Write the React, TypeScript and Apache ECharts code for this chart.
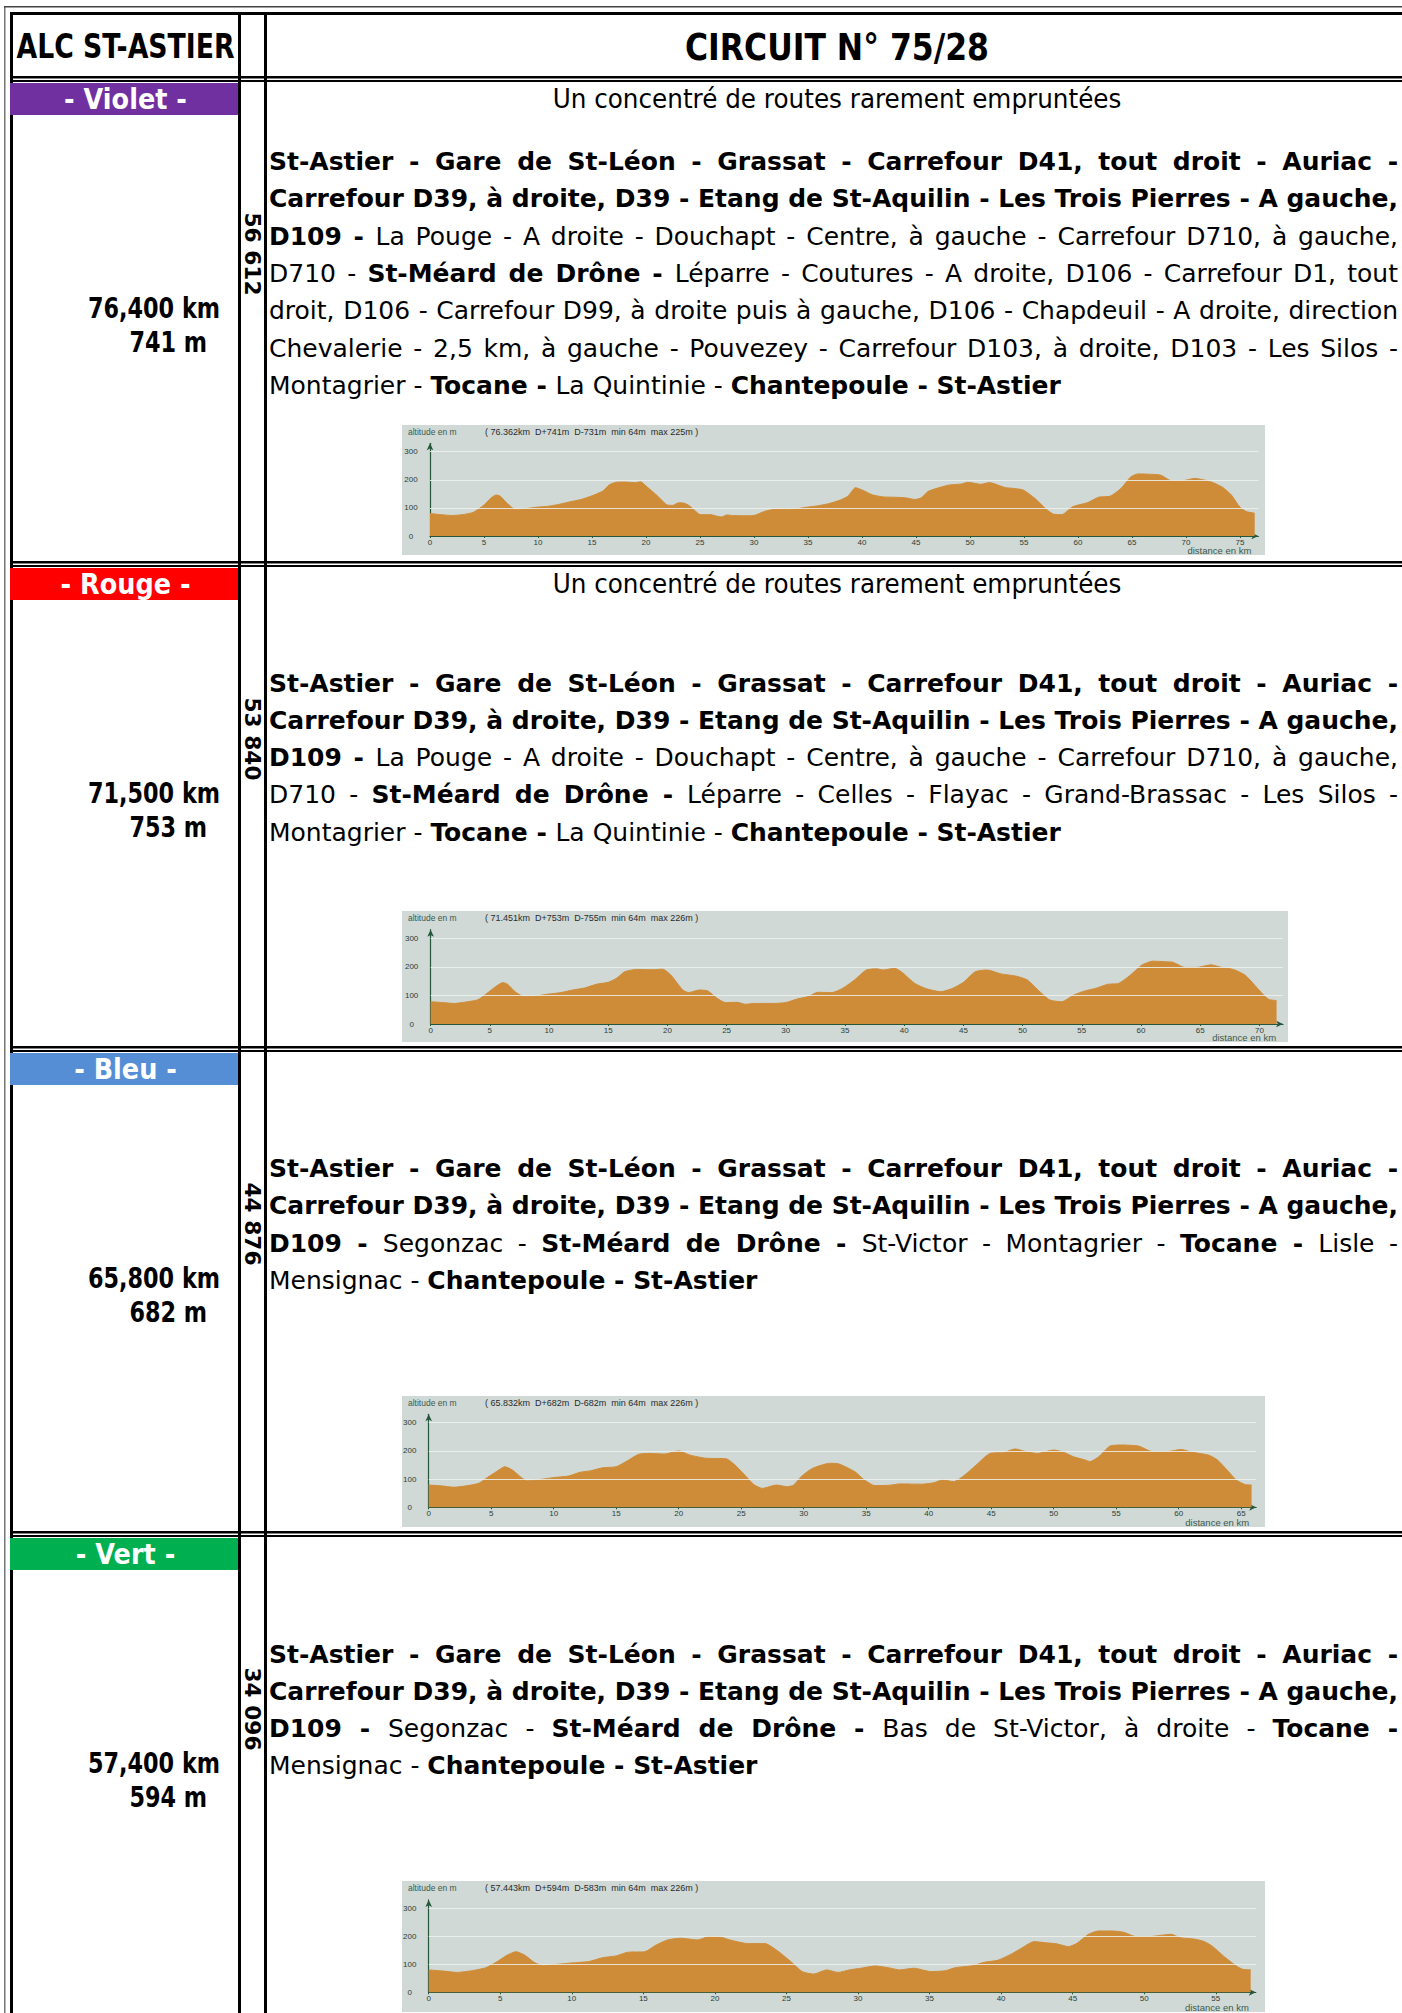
import React, { useEffect, useRef } from "react";
import * as echarts from "echarts";

// ---------- DATA ----------
const headerLeft = "ALC ST-ASTIER";
const headerTitle = "CIRCUIT N° 75/28";

const sectionNames = ["- Violet -", "- Rouge -", "- Bleu -", "- Vert -"];
const sectionColors = ["#7030a0", "#ff0000", "#558ed5", "#00b050"];
const distances = ["76,400 km", "71,500 km", "65,800 km", "57,400 km"];
const climbs = ["741 m", "753 m", "682 m", "594 m"];
const codes = ["56 612", "53 840", "44 876", "34 096"];
const subtitles = [
  "Un concentré de routes rarement empruntées",
  "Un concentré de routes rarement empruntées",
  "",
  "",
];

const violetRoute = [
  "**St-Astier - Gare de St-Léon - Grassat - Carrefour D41, tout droit - Auriac -**",
  "**Carrefour D39, à droite, D39 - Etang de St-Aquilin - Les Trois Pierres - A gauche,**",
  "**D109 -** La Pouge - A droite - Douchapt - Centre, à gauche - Carrefour D710, à gauche,",
  "D710 - **St-Méard de Drône -** Léparre - Coutures - A droite, D106 - Carrefour D1, tout",
  "droit, D106 - Carrefour D99, à droite puis à gauche, D106 - Chapdeuil - A droite, direction",
  "Chevalerie - 2,5 km, à gauche - Pouvezey - Carrefour D103, à droite, D103 - Les Silos -",
  "Montagrier - **Tocane -** La Quintinie - **Chantepoule - St-Astier**",
];
const rougeRoute = [
  "**St-Astier - Gare de St-Léon - Grassat - Carrefour D41, tout droit - Auriac -**",
  "**Carrefour D39, à droite, D39 - Etang de St-Aquilin - Les Trois Pierres - A gauche,**",
  "**D109 -** La Pouge - A droite - Douchapt - Centre, à gauche - Carrefour D710, à gauche,",
  "D710 - **St-Méard de Drône -** Léparre - Celles - Flayac - Grand-Brassac - Les Silos -",
  "Montagrier - **Tocane -** La Quintinie - **Chantepoule - St-Astier**",
];
const bleuRoute = [
  "**St-Astier - Gare de St-Léon - Grassat - Carrefour D41, tout droit - Auriac -**",
  "**Carrefour D39, à droite, D39 - Etang de St-Aquilin - Les Trois Pierres - A gauche,**",
  "**D109 -** Segonzac - **St-Méard de Drône -** St-Victor - Montagrier - **Tocane -** Lisle -",
  "Mensignac - **Chantepoule - St-Astier**",
];
const vertRoute = [
  "**St-Astier - Gare de St-Léon - Grassat - Carrefour D41, tout droit - Auriac -**",
  "**Carrefour D39, à droite, D39 - Etang de St-Aquilin - Les Trois Pierres - A gauche,**",
  "**D109 -** Segonzac - **St-Méard de Drône -** Bas de St-Victor, à droite - **Tocane -**",
  "Mensignac - **Chantepoule - St-Astier**",
];

const profileSummaries = [
  "( 76.362km  D+741m  D-731m  min 64m  max 225m )",
  "( 71.451km  D+753m  D-755m  min 64m  max 226m )",
  "( 65.832km  D+682m  D-682m  min 64m  max 226m )",
  "( 57.443km  D+594m  D-583m  min 64m  max 226m )",
];

const violetProfile = [
  [0, 80], [1, 76], [2, 73], [3, 76], [4, 84], [5, 110], [5.5, 130], [6.1, 146], [6.5, 142], [7, 122],
  [7.9, 95], [9, 98], [10, 103], [11, 106], [12, 113], [13, 122], [14, 130], [15, 143], [16, 160],
  [16.6, 182], [17.2, 191], [18, 192], [19, 190], [19.5, 193], [20, 178], [21, 145], [22, 110],
  [22.5, 109], [23, 118], [23.5, 117], [24, 108], [24.6, 88], [25, 76], [26, 76], [26.5, 71], [27, 68],
  [27.5, 75], [28, 73], [29, 72], [30, 73], [31, 88], [32, 95], [33, 95], [34, 97], [35, 103], [36, 108],
  [37, 116], [38, 128], [38.7, 142], [39.4, 172], [40, 164], [41, 146], [42, 139], [43, 138], [44, 136],
  [44.9, 130], [45.5, 136], [46.1, 158], [46.7, 167], [48, 181], [49.2, 185], [49.8, 191], [51, 184],
  [51.8, 190], [53.2, 173], [54.9, 164], [56, 134], [56.9, 101], [57.7, 78], [58.5, 76], [59.5, 104],
  [60.9, 119], [61.9, 138], [63, 142], [64, 170], [64.9, 211], [65.6, 221], [67.1, 219], [67.7, 216],
  [68.6, 197], [69.6, 196], [70.8, 205], [72.3, 193], [73.4, 173], [74.2, 146], [75, 102], [75.6, 87],
  [76.36, 81],
];
const rougeProfile = [
  [0, 78], [1, 75], [2, 72], [3, 77], [4, 85], [4.75, 107], [5.5, 131], [6.1, 145], [6.5, 139],
  [7.2, 111], [7.9, 96], [8.9, 98], [9.85, 104], [11, 110], [12, 119], [13, 126], [14, 139], [15, 146],
  [15.7, 160], [16.4, 183], [17.4, 191], [18.8, 190], [19.6, 192], [20.3, 171], [21.3, 119], [21.8, 110],
  [22.7, 119], [23.4, 116], [24.2, 90], [24.9, 75], [25.9, 76], [26.6, 69], [27.3, 72], [29, 72],
  [30, 75], [31, 88], [31.9, 96], [32.7, 111], [33.9, 110], [34.8, 125], [35.8, 154], [36.8, 189],
  [37.7, 193], [38.2, 189], [39.2, 195], [39.9, 178], [40.9, 142], [41.9, 123], [43.1, 113], [44.1, 125],
  [45, 146], [46, 183], [47, 189], [48.2, 175], [49.4, 168], [50.4, 154], [51.3, 119], [52.3, 84],
  [53.3, 78], [54.3, 101], [55.2, 115], [56.2, 125], [57.2, 139], [58.1, 142], [59.1, 171], [60.1, 207],
  [61, 220], [62, 218], [62.7, 216], [63.7, 198], [64.7, 198], [65.9, 207], [66.9, 197], [67.8, 191],
  [68.8, 171], [69.6, 136], [70.3, 104], [70.8, 86], [71.45, 82],
];
const bleuProfile = [
  [0, 79], [1, 76], [2, 71], [3, 76], [4, 85], [4.7, 106], [5.4, 126], [6.1, 144], [6.7, 132], [7.4, 106],
  [7.9, 94], [9, 99], [10.1, 106], [11.2, 111], [12.1, 124], [13, 130], [13.9, 140], [15, 144],
  [15.9, 165], [16.8, 188], [17.7, 191], [18.9, 189], [20, 200], [20.9, 185], [22.2, 174], [23.8, 172],
  [24.5, 150], [25.4, 109], [26, 81], [26.7, 67], [27.8, 79], [28.7, 73], [29.2, 79], [29.8, 109],
  [30.7, 138], [32.1, 156], [32.8, 154], [34.1, 126], [34.8, 99], [35.7, 77], [36.8, 78], [37.7, 83],
  [39.5, 82], [40.4, 87], [41.1, 97], [42, 91], [42.9, 115], [43.8, 150], [44.9, 191], [46, 194],
  [46.9, 207], [47.8, 197], [48.7, 191], [50, 203], [50.7, 197], [51.6, 179], [52.5, 168], [52.9, 162],
  [53.6, 179], [54.5, 217], [55.4, 221], [56.8, 217], [57.9, 197], [59, 197], [60.2, 205], [61.1, 195],
  [62.4, 185], [63.1, 168], [64, 126], [64.6, 97], [65.3, 81], [65.83, 79],
];
const vertProfile = [
  [0, 80], [1, 76], [2, 71], [3, 77], [4, 88], [4.7, 107], [5.5, 133], [6.1, 145], [6.7, 133], [7.4, 106],
  [8, 95], [9, 100], [10, 105], [11.2, 110], [12.2, 124], [13.1, 130], [13.9, 143], [15.1, 145],
  [15.9, 169], [16.7, 187], [17.6, 193], [18.8, 187], [19.6, 199], [20.4, 197], [21.2, 185], [22.3, 174],
  [23.5, 174], [24.3, 151], [25.3, 110], [26.1, 74], [26.9, 65], [27.8, 80], [28.6, 71], [29.4, 80],
  [30.2, 86], [31.2, 94], [32.1, 88], [32.9, 80], [33.9, 86], [35.1, 74], [36.1, 77], [36.8, 88],
  [38, 95], [38.8, 107], [39.8, 115], [40.8, 139], [41.5, 160], [42.3, 181], [43.1, 177], [43.9, 173],
  [44.7, 163], [45.3, 175], [46.1, 207], [46.8, 219], [47.8, 219], [48.6, 214], [49.4, 199], [50.4, 199],
  [51.4, 205], [51.9, 207], [52.5, 195], [53.5, 190], [54.2, 181], [54.8, 163], [55.6, 127], [56.5, 92],
  [56.9, 82], [57.44, 80],
];

const violetTicks = [0, 5, 10, 15, 20, 25, 30, 35, 40, 45, 50, 55, 60, 65, 70, 75];
const rougeTicks = [0, 5, 10, 15, 20, 25, 30, 35, 40, 45, 50, 55, 60, 65, 70];
const bleuTicks = [0, 5, 10, 15, 20, 25, 30, 35, 40, 45, 50, 55, 60, 65];
const vertTicks = [0, 5, 10, 15, 20, 25, 30, 35, 40, 45, 50, 55];
const altitudeTicks = [0, 100, 200, 300];
const gridLevels = [100, 200, 300];

// ---------- LAYOUT ----------
const FONT = '"DejaVu Sans", "Noto Sans", sans-serif';
const SMALL = '"Liberation Sans", Arial, sans-serif';
const ORANGE = "#cf8c38";
const PANEL = "#d0d9d6";
const AXIS = "#24563a";

const sectionTops = [83, 568, 1053, 1538];
const routeTops = [161.5, 683, 1168.5, 1654];
const LINE_H = 37.3;
const TEXT_L = 269;
const TEXT_R = 1398;

const chartLayouts = [
  { box: [402, 425, 863, 130], left: 430, pxKm: 10.8, xMax: 76.7, y0: 536, px100: 28.1 },
  { box: [402, 911, 886, 131], left: 430.6, pxKm: 11.84, xMax: 72.0, y0: 1024, px100: 28.57 },
  { box: [402, 1396, 863, 131], left: 428.7, pxKm: 12.5, xMax: 66.2, y0: 1507.3, px100: 28.2 },
  { box: [402, 1881, 863, 131], left: 428.7, pxKm: 14.31, xMax: 57.8, y0: 1992.3, px100: 28.0 },
];

const routes = [violetRoute, rougeRoute, bleuRoute, vertRoute];
const profiles = [violetProfile, rougeProfile, bleuProfile, vertProfile];
const xTicks = [violetTicks, rougeTicks, bleuTicks, vertTicks];

function tokenize(line: string) {
  const toks: { w: string; bold: boolean }[] = [];
  line.split("**").forEach((p, i) => {
    const bold = i % 2 === 1;
    p.split(" ").forEach((w) => {
      if (w) toks.push({ w, bold });
    });
  });
  return toks;
}

export default function App() {
  const ref = useRef<HTMLDivElement>(null);
  useEffect(() => {
    const el = ref.current!;
    document.documentElement.style.overflow = "hidden";
    const chart = echarts.init(el, null, { renderer: "svg" });
    const cv = document.createElement("canvas");
    const ctx = cv.getContext("2d")!;
    const fontStr = (size: number, bold: boolean) =>
      `${bold ? "bold " : ""}${size.toFixed(2)}px ${FONT}`;
    const measure = (t: string, size: number, bold: boolean) => {
      ctx.font = fontStr(size, bold);
      return ctx.measureText(t).width;
    };
    const fit = (t: string, bold: boolean, target: number) => (20 * target) / measure(t, 20, bold);

    const g: any[] = [];
    const rect = (x: number, y: number, w: number, h: number, fill: string) =>
      g.push({ type: "rect", silent: true, shape: { x, y, width: w, height: h }, style: { fill } });
    const text = (
      x: number,
      y: number,
      t: string,
      size: number,
      bold: boolean,
      align: string,
      fill = "#000",
      extra: any = {},
      family = FONT
    ) =>
      g.push({
        type: "text",
        silent: true,
        x,
        y,
        ...extra,
        style: {
          text: t,
          font: `${bold ? "bold " : ""}${size.toFixed(2)}px ${family}`,
          fill,
          align,
          textAlign: align,
          verticalAlign: "middle",
          textVerticalAlign: "middle",
        },
      });

    // panels of profiles (behind)
    chartLayouts.forEach((c) => rect(c.box[0], c.box[1], c.box[2], c.box[3], PANEL));

    // table lines
    rect(4, 6, 1.5, 2013, "#777");
    rect(4, 6, 1402, 1.5, "#444");
    rect(10, 12, 3, 2013, "#000");
    rect(10, 12, 1402, 3, "#000");
    rect(238, 12, 3, 2013, "#000");
    rect(264, 12, 3, 2013, "#000");
    sectionTops.forEach((S) => {
      rect(10, S - 7, 1402, 2.5, "#000");
      rect(10, S - 3, 1402, 2, "#000");
    });

    // header
    const hSize = fit(headerLeft, true, 218);
    text(125.5, 46.5, headerLeft, hSize, true, "center", "#000", { scaleY: 1.25 });
    const tSize = fit(headerTitle, true, 304);
    text(837, 46.5, headerTitle, tSize, true, "center", "#000", { scaleY: 1.2 });

    // route text font size calibrated on one unjustified line (792px wide)
    const calTok = tokenize(violetRoute[violetRoute.length - 1]);
    let nat20 = 0;
    calTok.forEach((t, i) => {
      nat20 += measure(t.w, 20, t.bold);
      if (i < calTok.length - 1) nat20 += measure(" ", 20, t.bold);
    });
    const B = (20 * 792) / nat20;
    const subSize = fit(subtitles[0], false, 569);
    const barSize = fit(sectionNames[0], true, 123);
    const kmSize = fit(distances[1], true, 132);
    const codeSize = fit(codes[1], true, 83);

    sectionTops.forEach((S, k) => {
      rect(10, S, 228, 32, sectionColors[k]);
      text(125.5, S + 16, sectionNames[k], barSize, true, "center", "#fff", { scaleY: 1.1 });
      if (subtitles[k]) text(837, S + 16, subtitles[k], subSize, false, "center", "#000", { scaleY: 1.1 });
      text(220, S + 225.5, distances[k], kmSize, true, "right", "#000", { scaleY: 1.25 });
      text(207, S + 260, climbs[k], kmSize, true, "right", "#000", { scaleY: 1.25 });
      text(252, S + 171, codes[k], codeSize, true, "center", "#000", { rotation: -Math.PI / 2 });

      const lines = routes[k];
      lines.forEach((line, li) => {
        const toks = tokenize(line);
        const widths = toks.map((t) => measure(t.w, B, t.bold));
        const spaces = toks.map((t) => measure(" ", B, t.bold));
        let natural = 0;
        toks.forEach((t, i) => {
          natural += widths[i];
          if (i < toks.length - 1) natural += spaces[i];
        });
        const justify = li < lines.length - 1 && toks.length > 1;
        let ex = justify ? (TEXT_R - TEXT_L - natural) / (toks.length - 1) : 0;
        ex = Math.max(ex, -2);
        let x = TEXT_L;
        const y = routeTops[k] + li * LINE_H;
        toks.forEach((t, i) => {
          text(x, y, t.w, B, t.bold, "left");
          x += widths[i] + spaces[i] + ex;
        });
      });
    });

    // profile labels
    chartLayouts.forEach((c, k) => {
      const [bx, by, bw, bh] = c.box;
      text(bx + 6, by + 7, "altitude en m", 8.5, false, "left", "#3c5a4c", {}, SMALL);
      text(bx + 83, by + 7, profileSummaries[k], 9, false, "left", "#2b2b2b", {}, SMALL);
      const arrowX = c.left + c.xMax * c.pxKm;
      text(arrowX - 7, by + bh - 4.5, "distance en km", 9.5, false, "right", "#3c5a4c", {}, SMALL);
    });

    const grid: any[] = [];
    const xAxis: any[] = [];
    const yAxis: any[] = [];
    const series: any[] = [];
    chartLayouts.forEach((c, i) => {
      const h = 3.3 * c.px100;
      grid.push({ left: c.left, top: c.y0 - h, width: c.xMax * c.pxKm, height: h });
      xAxis.push({
        type: "value",
        gridIndex: i,
        min: 0,
        max: c.xMax,
        axisLine: {
          show: true,
          onZero: false,
          symbol: ["none", "arrow"],
          symbolSize: [5, 7],
          lineStyle: { color: AXIS, width: 1.2 },
        },
        axisTick: { show: true, length: 2, customValues: xTicks[i], lineStyle: { color: AXIS } },
        axisLabel: {
          customValues: xTicks[i],
          fontSize: 8,
          fontFamily: SMALL,
          color: "#2e3d35",
          margin: 2,
        },
        splitLine: { show: false },
      });
      yAxis.push({
        type: "value",
        gridIndex: i,
        min: 0,
        max: 330,
        axisLine: {
          show: true,
          onZero: false,
          symbol: ["none", "arrow"],
          symbolSize: [5, 7],
          lineStyle: { color: AXIS, width: 1.2 },
        },
        axisTick: { show: false },
        axisLabel: {
          customValues: altitudeTicks,
          fontSize: 8,
          fontFamily: SMALL,
          color: "#2e3d35",
          align: "center",
          margin: 19,
        },
        splitLine: { show: false },
      });
      series.push({
        type: "line",
        xAxisIndex: i,
        yAxisIndex: i,
        data: profiles[i],
        symbol: "none",
        smooth: 0.2,
        lineStyle: { width: 1, color: ORANGE },
        areaStyle: { color: ORANGE, opacity: 1 },
        z: 2,
        markLine: {
          silent: true,
          symbol: ["none", "none"],
          label: { show: false },
          lineStyle: { color: "#eef2ef", width: 1, type: "solid", opacity: 0.85 },
          data: gridLevels.map((v) => ({ yAxis: v })),
        },
      });
    });

    chart.setOption({
      animation: false,
      grid,
      xAxis,
      yAxis,
      series,
      graphic: { elements: g },
    });
    return () => chart.dispose();
  }, []);
  return (
    <div
      ref={ref}
      style={{ position: "absolute", left: 0, top: 0, width: 1402, height: 2013, background: "#fff" }}
    />
  );
}
